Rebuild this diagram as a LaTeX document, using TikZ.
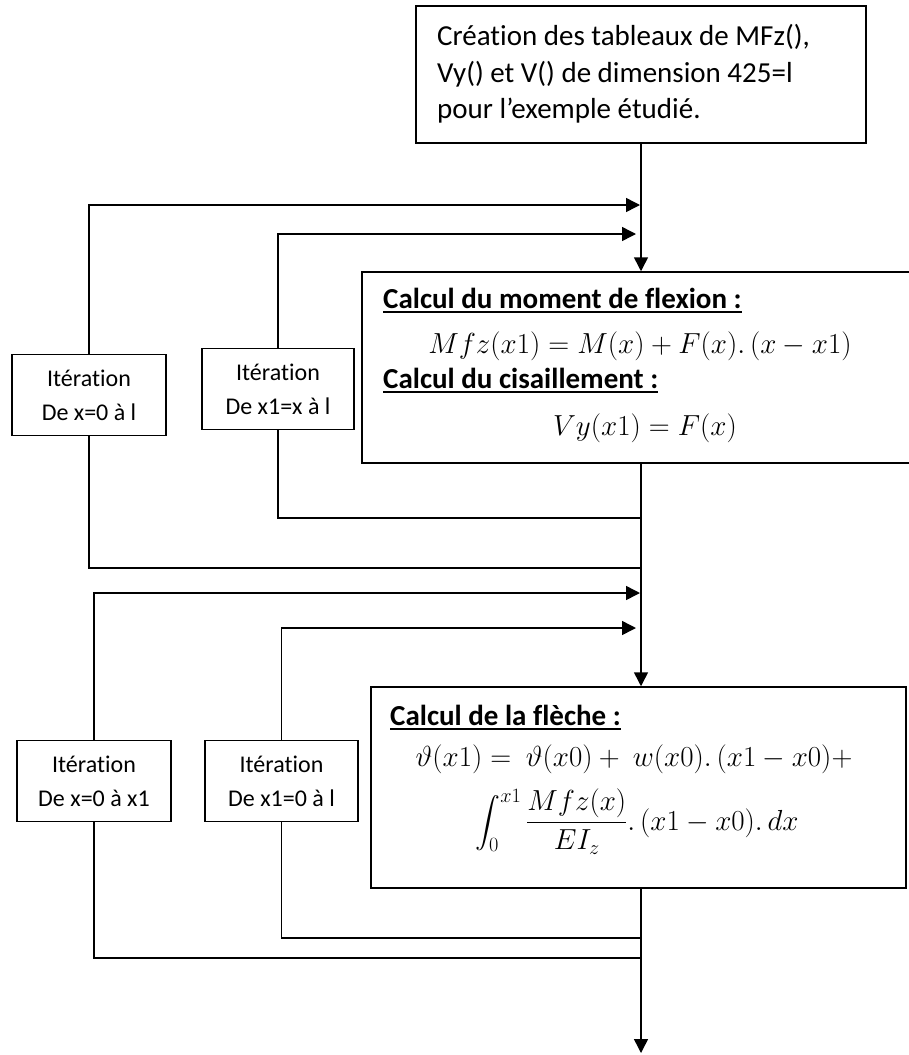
\RequirePackage{fix-cm}
\documentclass[tikz,border=0pt]{standalone}
\usepackage{amsmath}
\usepackage{fontspec}
\setmainfont[Ligatures=NoCommon]{Carlito}
\usetikzlibrary{arrows.meta,calc}
\tikzset{
  box/.style={draw, line width=1.5pt, inner sep=0pt, rectangle},
  itbox/.style={box, minimum height=81pt, align=center, font=\fontsize{24}{34}\selectfont},
  txt/.style={inner sep=0pt, anchor=base west, font=\fontsize{29}{35}\selectfont},
  ttl/.style={inner sep=0pt, anchor=base west, font=\fontsize{29}{35}\selectfont\bfseries},
  eq/.style={inner sep=0pt, anchor=base, font=\fontsize{29}{35}\selectfont},
  ln/.style={line width=1.5pt},
  uline/.style={line width=1.8pt},
  arr/.style={ln, -{Triangle[length=14pt,width=14pt]}}
}
\begin{document}
\begin{tikzpicture}[x=1pt,y=-1pt]
\useasboundingbox (0,0) rectangle (908,1055);
% boxes
\node[box, minimum width=450pt, minimum height=137pt] (T) at (641,74.5) {};
\node[box, minimum width=553pt, minimum height=191pt] (B2) at (638.5,367.5) {};
\node[box, minimum width=535pt, minimum height=201pt] (B3) at (638.5,787.5) {};
\node[itbox, minimum width=154pt] (A) at (89,395) {Itération\\De x=0 à l};
\node[itbox, minimum width=152pt] (B) at (278,389) {Itération\\De x1=x à l};
\node[itbox, minimum width=154pt] (C) at (94,781) {Itération\\De x=0 à x1};
\node[itbox, minimum width=153pt] (D) at (281.5,781) {Itération\\De x1=0 à l};
% top text
\node[txt] (t1) at (437,45) {Création des tableaux de MFz(),};
\node[txt] (t2) at (437,82) {Vy() et V() de dimension 425=l};
\node[txt] (t3) at (437,118) {pour l’exemple étudié.};
% box 2 text
\node[ttl] (h1) at (383,308) {Calcul du moment de flexion :};
\draw[uline] ($(h1.base west)+(0,4)$) -- ($(h1.base east)+(0,4)$);
\node[eq] (e1) at (640,353) {$Mfz(x1)=M(x)+F(x).\,(x-x1)$};
\node[ttl] (h2) at (383,388) {Calcul du cisaillement :};
\draw[uline] ($(h2.base west)+(0,4)$) -- ($(h2.base east)+(0,4)$);
\node[eq] (e2) at (645,435) {$Vy(x1)=F(x)$};
% box 3 text
\node[ttl] (h3) at (390,725) {Calcul de la flèche :};
\draw[uline] ($(h3.base west)+(0,4)$) -- ($(h3.base east)+(0,4)$);
\node[eq] (e3) at (634,766) {$\vartheta(x1)=\ \vartheta(x0)+\ w(x0).\,(x1-x0)+$};
\node[eq] (e4) at (637,830) {$\displaystyle\int_0^{x1}\frac{Mfz(x)}{EI_z}.\,(x1-x0).\,dx$};
% junction points on the main line
\coordinate (a1) at (640,205);
\coordinate (b1) at (636,234);
\coordinate (b2) at (640,518);
\coordinate (a2) at (640,568);
\coordinate (c1) at (640,593);
\coordinate (d1) at (636,628);
\coordinate (d2) at (640,938);
\coordinate (c2) at (640,958);
\coordinate (end) at (641,1053);
% main flow
\draw[arr] (T.south) -- (T.south |- B2.north);
\draw[arr] (T.south |- B2.south) -- (T.south |- B3.north);
\draw[arr] (T.south |- B3.south) -- (end);
% loops
\draw[arr] (A.north) |- (a1);
\draw[arr] (B.north) |- (b1);
\draw[ln] (B.south) |- (b2);
\draw[ln] (A.south) |- (a2);
\draw[arr] (C.north) |- (c1);
\draw[arr] (D.north) |- (d1);
\draw[ln] (D.south) |- (d2);
\draw[ln] (C.south) |- (c2);
\end{tikzpicture}
\end{document}
